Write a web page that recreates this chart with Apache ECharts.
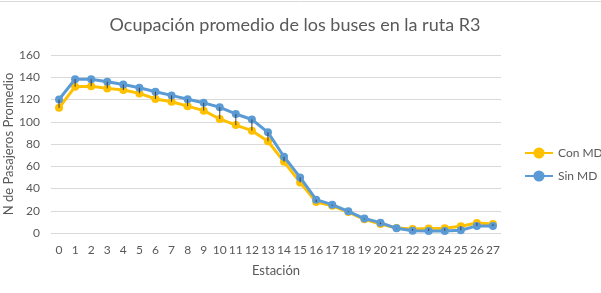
<!DOCTYPE html>
<html>
<head>
<meta charset="utf-8">
<script src="https://cdn.jsdelivr.net/npm/echarts@6/dist/echarts.min.js"></script>
<style>html,body{margin:0;padding:0;background:#fff}#c{width:601px;height:293px}</style>
</head>
<body>
<div id="c"></div>
<script>
var categories = ['0','1','2','3','4','5','6','7','8','9','10','11','12','13','14','15','16','17','18','19','20','21','22','23','24','25','26','27'];
var conMD = [112.5,131.5,132,130,128.5,125.5,120.5,118,114,110,102.5,97,92,82.5,64,45.5,27.8,24.5,18.8,12.3,8,4.5,3.6,4,4.2,6,9,8];
var sinMD = [120,138.3,138.2,136,133.5,130.5,127,123.7,120.2,117,113,107,102,90.5,68.5,50,30,25.5,19.5,13,9.3,4.2,2,1.7,1.9,2.5,6.4,6.2];
var yTicks = [0,20,40,60,80,100,120,140,160];

var hl = categories.map(function(c,i){ return [i, Math.min(conMD[i],sinMD[i]), Math.max(conMD[i],sinMD[i])]; });
var txt = '#595959';
var ff = 'Lato';
var chart = echarts.init(document.getElementById('c'), null, {renderer:'canvas'});
chart.setOption({
  animation:false,
  graphic:[
    {type:'line', shape:{x1:0,y1:1.5,x2:601,y2:1.5}, style:{stroke:'#d9d9d9', lineWidth:1}},
    {type:'text', x:295, y:25, style:{text:'Ocupación promedio de los buses en la ruta R3', align:'center', verticalAlign:'middle',
      font:'18px Lato', fill:txt}}
  ],
  legend:{orient:'vertical', left:524, top:147, padding:0, itemGap:11, itemWidth:28, itemHeight:14,
    textStyle:{fontFamily:ff, fontSize:12, color:txt}, data:['Con MD','Sin MD']},
  grid:{left:51, right:100, top:55, bottom:60, outerBoundsMode:'none', containLabel:false},
  xAxis:{type:'category', data:categories, boundaryGap:true,
    name:'Estación', nameLocation:'middle', nameGap:31,
    nameTextStyle:{fontFamily:ff, fontSize:13, color:txt},
    axisLine:{show:false}, axisTick:{show:false},
    axisLabel:{interval:0, margin:11, fontFamily:ff, fontSize:12, color:txt}},
  yAxis:{type:'value', min:yTicks[0], max:yTicks[yTicks.length-1], interval:20,
    name:'N de Pasajeros Promedio', nameLocation:'middle', nameGap:36, nameMoveOverlap:false,
    nameTextStyle:{fontFamily:ff, fontSize:13, color:txt},
    axisLine:{show:false}, axisTick:{show:false},
    axisLabel:{margin:11, fontFamily:ff, fontSize:12, color:txt},
    splitLine:{lineStyle:{color:'#d9d9d9', width:1}}},
  series:[
    {name:'Con MD', type:'line', data:conMD, symbol:'circle', symbolSize:8,
     itemStyle:{color:'#FFC000'}, lineStyle:{color:'#FFC000', width:3}, z:2},
    {name:'Sin MD', type:'line', data:sinMD, symbol:'circle', symbolSize:8,
     itemStyle:{color:'#5B9BD5'}, lineStyle:{color:'#5B9BD5', width:3}, z:3},
    {name:'hl', type:'custom', data:hl, z:4, silent:true,
     renderItem:function(params, api){
       var a = api.coord([api.value(0), api.value(1)]);
       var b = api.coord([api.value(0), api.value(2)]);
       return {type:'line', shape:{x1:a[0],y1:a[1],x2:b[0],y2:b[1]}, style:{stroke:'#404040', lineWidth:1}};
     }}
  ]
});
</script>
</body>
</html>
